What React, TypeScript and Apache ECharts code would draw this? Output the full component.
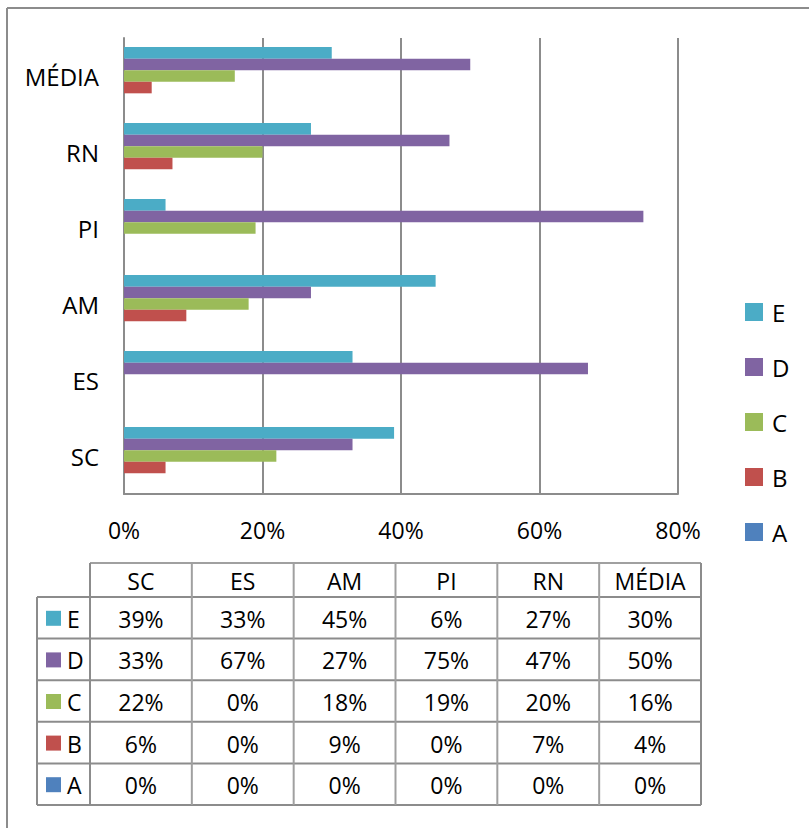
import React, { useEffect, useRef } from "react";
import * as echarts from "echarts";

// Regions, listed bottom-to-top on the bar axis and left-to-right in the table
const categories = ["SC", "ES", "AM", "PI", "RN", "MÉDIA"];

// Answer shares (%) per region
const seriesNames = ["A", "B", "C", "D", "E"];
const valuesA = [0, 0, 0, 0, 0, 0];
const valuesB = [6, 0, 9, 0, 7, 4];
const valuesC = [22, 0, 18, 19, 20, 16];
const valuesD = [33, 67, 27, 75, 47, 50];
const valuesE = [39, 33, 45, 6, 27, 30];

const xTicks = [0, 20, 40, 60, 80];

const colors: Record<string, string> = {
  A: "#4F81BD",
  B: "#C0504D",
  C: "#9BBB59",
  D: "#8064A2",
  E: "#4BACC6",
};

const FONT = "'Open Sans', 'Noto Sans', sans-serif";
const GRID_GRAY = "#8c8c8c";

export default function App() {
  const ref = useRef<HTMLDivElement>(null);

  useEffect(() => {
    if (!ref.current) return;
    const chart = echarts.init(ref.current, null, { renderer: "svg" });

    const valuesBySeries: Record<string, number[]> = {
      A: valuesA,
      B: valuesB,
      C: valuesC,
      D: valuesD,
      E: valuesE,
    };
    // E first so that it sits at the top of each band, A at the bottom
    const topDown = [...seriesNames].reverse();

    // Data table under the chart
    const tableLeft = 37;
    const labelColRight = 90;
    const tableRight = 701;
    const headerTop = 563;
    const headerBottom = 597;
    const tableBottom = 805;
    const colW = (tableRight - labelColRight) / categories.length;
    const rowH = (tableBottom - headerBottom) / topDown.length;

    const lineStyle = { stroke: GRID_GRAY, lineWidth: 2 };
    const innerStyle = { stroke: "#a0a0a0", lineWidth: 2 };
    const graphics: any[] = [];

    // outer frame (top and left edges)
    graphics.push({
      type: "line",
      shape: { x1: 7, y1: 8, x2: 809, y2: 8 },
      style: lineStyle,
    });
    graphics.push({
      type: "line",
      shape: { x1: 7, y1: 8, x2: 7, y2: 828 },
      style: lineStyle,
    });

    // header top line
    graphics.push({
      type: "line",
      shape: { x1: labelColRight, y1: headerTop, x2: tableRight, y2: headerTop },
      style: innerStyle,
    });
    // row lines
    for (let r = 0; r <= topDown.length; r++) {
      const y = headerBottom + r * rowH;
      graphics.push({
        type: "line",
        shape: { x1: tableLeft, y1: y, x2: tableRight, y2: y },
        style: lineStyle,
      });
    }
    // column lines
    graphics.push({
      type: "line",
      shape: { x1: tableLeft, y1: headerBottom, x2: tableLeft, y2: tableBottom },
      style: lineStyle,
    });
    for (let c = 0; c <= categories.length; c++) {
      const x = labelColRight + c * colW;
      graphics.push({
        type: "line",
        shape: { x1: x, y1: headerTop, x2: x, y2: tableBottom },
        style: c === 0 || c === categories.length ? lineStyle : innerStyle,
      });
    }
    // header texts
    categories.forEach((cat, c) => {
      graphics.push({
        type: "text",
        x: labelColRight + (c + 0.5) * colW,
        y: (headerTop + headerBottom) / 2 + 1,
        style: {
          text: cat,
          fill: "#000",
          font: `23px ${FONT}`,
          align: "center",
          verticalAlign: "middle",
        },
      });
    });
    // body rows
    topDown.forEach((name, r) => {
      const cy = headerBottom + (r + 0.5) * rowH + 1;
      graphics.push({
        type: "rect",
        shape: { x: 46, y: cy - 8, width: 15, height: 15 },
        style: { fill: colors[name] },
      });
      graphics.push({
        type: "text",
        x: 67,
        y: cy,
        style: {
          text: name,
          fill: "#000",
          font: `23px ${FONT}`,
          align: "left",
          verticalAlign: "middle",
        },
      });
      valuesBySeries[name].forEach((v, c) => {
        graphics.push({
          type: "text",
          x: labelColRight + (c + 0.5) * colW,
          y: cy,
          style: {
            text: `${v}%`,
            fill: "#000",
            font: `23px ${FONT}`,
            align: "center",
            verticalAlign: "middle",
          },
        });
      });
    });

    chart.setOption({
      animation: false,
      backgroundColor: "#ffffff",
      textStyle: { fontFamily: FONT },
      grid: { left: 124, right: 131, top: 38, bottom: 334, containLabel: false },
      legend: {
        orient: "vertical",
        left: 745,
        top: 300,
        padding: 0,
        data: topDown,
        icon: "rect",
        itemWidth: 18,
        itemHeight: 18,
        itemGap: 31,
        selectedMode: false,
        textStyle: {
          fontSize: 24,
          color: "#000",
          fontFamily: FONT,
          padding: [0, 0, 0, 4],
        },
      },
      xAxis: {
        type: "value",
        min: xTicks[0],
        max: xTicks[xTicks.length - 1],
        interval: xTicks[1] - xTicks[0],
        axisLine: { show: true, lineStyle: { color: GRID_GRAY, width: 2 } },
        axisTick: { show: false },
        splitLine: { show: true, lineStyle: { color: GRID_GRAY, width: 2 } },
        axisLabel: {
          formatter: "{value}%",
          fontSize: 23,
          color: "#000",
          margin: 24,
          fontFamily: FONT,
        },
      },
      yAxis: {
        type: "category",
        data: categories,
        axisLine: { show: true, lineStyle: { color: GRID_GRAY, width: 2 } },
        axisTick: { show: false },
        splitLine: { show: false },
        axisLabel: {
          fontSize: 24,
          color: "#000",
          margin: 25,
          fontFamily: FONT,
        },
      },
      series: topDown.map((name) => ({
        name,
        type: "bar",
        data: valuesBySeries[name],
        barGap: "0%",
        barCategoryGap: "24%",
        itemStyle: { color: colors[name] },
      })),
      graphic: graphics,
    });

    return () => chart.dispose();
  }, []);

  return (
    <div
      ref={ref}
      style={{
        position: "fixed",
        left: 0,
        top: 0,
        width: 809,
        height: 828,
        background: "#fff",
      }}
    />
  );
}
